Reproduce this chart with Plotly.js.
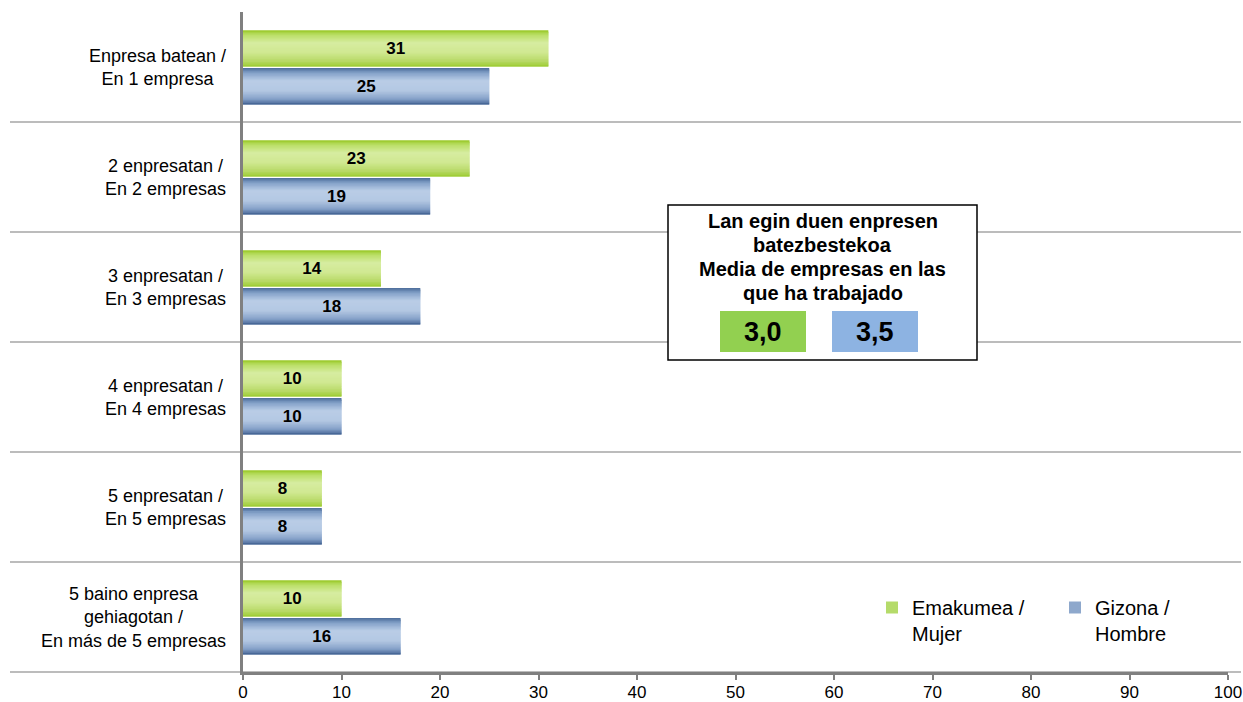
<!DOCTYPE html>
<html>
<head>
<meta charset="utf-8">
<script src="https://cdn.plot.ly/plotly-3.0.1.min.js"></script>
<style>html,body{margin:0;padding:0;background:#fff;}#chart{width:1243px;height:702px;}</style>
</head>
<body>
<div id="chart"></div>
<script>
// ---- data ----
const categories = [
  "Enpresa batean /<br>En 1 empresa",
  "2 enpresatan /<br>En 2 empresas",
  "3 enpresatan /<br>En 3 empresas",
  "4 enpresatan /<br>En 4 empresas",
  "5 enpresatan /<br>En 5 empresas",
  "5 baino enpresa<br>gehiagotan /<br>En más de 5 empresas"
];
const women = [31, 23, 14, 10, 8, 10];
const men = [25, 19, 18, 10, 8, 16];
const seriesNames = ["Emakumea /<br>Mujer", "Gizona /<br>Hombre"];
const averageTitleLines = ["Lan egin duen enpresen", "batezbestekoa", "Media de empresas en las", "que ha trabajado"];
const averages = ["3,0", "3,5"];
const xTicks = [0,10,20,30,40,50,60,70,80,90,100];

// ---- layout helpers ----
const W = 1243, H = 702;
const M = {l: 243, r: 15, t: 12, b: 30};
const PW = W - M.l - M.r, PH = H - M.t - M.b;
const px = x => (x - M.l) / PW;
const pyy = y => (M.t + PH - y) / PH;

const greenStops = [[0,[150,198,35]],[0.12,[186,222,100]],[0.35,[214,236,160]],[0.62,[208,232,146]],[0.86,[182,216,100]],[1,[156,203,48]]];
const blueStops = [[0,[72,104,150]],[0.12,[130,160,200]],[0.35,[186,205,230]],[0.62,[180,200,227]],[0.86,[132,160,200]],[1,[62,94,143]]];
function colorAt(stops, t){
  for (let i=0;i<stops.length-1;i++){
    const [t0,c0]=stops[i],[t1,c1]=stops[i+1];
    if (t>=t0 && t<=t1){
      const f=(t-t0)/(t1-t0);
      return 'rgb('+c0.map((v,k)=>Math.round(v+(c1[k]-v)*f)).join(',')+')';
    }
  }
  return 'rgb('+stops[stops.length-1][1].join(',')+')';
}

const font = 'Liberation Sans, Arial, sans-serif';
const barW = 0.33;
const N = 24;
const traces = [];
function addSeries(values, name, stops, off0, legendId, legendColor){
  const w = barW / N;
  for (let j=0;j<N;j++){
    const t = (j+0.5)/N;
    traces.push({
      type:'bar', orientation:'h', x: values, y: categories,
      offset: off0 + j*w, width: (j===N-1) ? w : w*2,
      marker:{color: colorAt(stops,t), line:{width:0}},
      showlegend:false, hoverinfo:'skip'
    });
  }
  // legend entry (no visible bars)
  traces.push({
    type:'bar', orientation:'h', x: values.map(()=>null), y: categories,
    marker:{color: legendColor, line:{color: legendColor, width:0}},
    name: name, showlegend:true, legend: legendId, hoverinfo:'skip'
  });
  traces.push({
    type:'bar', orientation:'h', x: values, y: categories,
    offset: off0, width: barW,
    marker:{color:'rgba(0,0,0,0)', line:{width:0}},
    text: values.map(String), textposition:'inside', insidetextanchor:'middle',
    textangle: 0,
    textfont:{family:font, size:17, color:'#000', weight:'bold'},
    showlegend:false, hoverinfo:'skip'
  });
}
addSeries(women, seriesNames[0], greenStops, -0.335, 'legend', '#b5db6a');
addSeries(men, seriesNames[1], blueStops, 0.01, 'legend2', '#8ea8cc');

const shapes = [];
for (let i=1;i<=6;i++){
  shapes.push({type:'line', xref:'paper', yref:'paper', x0:px(10), x1:px(1241), y0:1-i/6, y1:1-i/6,
    line:{color:'#a6a6a6', width:1.5}, layer:'below'});
}
// average box
shapes.push({type:'rect', xref:'paper', yref:'paper', x0:px(668), x1:px(977), y0:pyy(360), y1:pyy(205),
  line:{color:'#000', width:1.5}, fillcolor:'#fff', layer:'above'});
shapes.push({type:'rect', xref:'paper', yref:'paper', x0:px(720), x1:px(806), y0:pyy(352), y1:pyy(311),
  line:{width:0}, fillcolor:'#92d050', layer:'above'});
shapes.push({type:'rect', xref:'paper', yref:'paper', x0:px(832), x1:px(918), y0:pyy(352), y1:pyy(311),
  line:{width:0}, fillcolor:'#8db3e2', layer:'above'});

const annotations = categories.map(c => ({
  xref:'paper', yref:'y', x:0, y:c, xshift:-15, xanchor:'right', yanchor:'middle',
  text:c, showarrow:false, align:'center', font:{family:font, size:18, color:'#000'}
}));
averageTitleLines.forEach((t,i) => annotations.push({xref:'paper', yref:'paper', x:px(822.5), y:pyy(221 + i*24),
  xanchor:'center', yanchor:'middle', text:t, showarrow:false, align:'center',
  font:{family:font, size:20, color:'#000', weight:'bold'}}));
annotations.push({xref:'paper', yref:'paper', x:px(763), y:pyy(332), xanchor:'center', yanchor:'middle',
  text:averages[0], showarrow:false, font:{family:font, size:27, color:'#000', weight:'bold'}});
annotations.push({xref:'paper', yref:'paper', x:px(875), y:pyy(332), xanchor:'center', yanchor:'middle',
  text:averages[1], showarrow:false, font:{family:font, size:27, color:'#000', weight:'bold'}});

const legendBase = {orientation:'v', xanchor:'left', yanchor:'top', valign:'top',
  font:{family:font, size:20, color:'#000'}, bgcolor:'rgba(0,0,0,0)', itemclick:false, itemdoubleclick:false};

const layout = {
  width: W, height: H,
  margin: M,
  paper_bgcolor:'#fff', plot_bgcolor:'#fff',
  barmode:'overlay',
  showlegend:true,
  legend: Object.assign({}, legendBase, {x:px(872), y:pyy(588)}),
  legend2: Object.assign({}, legendBase, {x:px(1055), y:pyy(588)}),
  xaxis:{range:[0,100], tickvals:xTicks, ticktext:xTicks.map(String), ticks:'outside', ticklen:5, tickwidth:2,
    tickcolor:'#808080', showline:true, linecolor:'#808080', linewidth:3, showgrid:false, zeroline:false,
    tickfont:{family:font, size:17, color:'#000'}, ticklabelstandoff:-2, automargin:false, fixedrange:true},
  yaxis:{type:'category', range:[5.5,-0.5], showticklabels:false, showline:true, linecolor:'#808080',
    linewidth:3, showgrid:false, zeroline:false, ticks:'', automargin:false, fixedrange:true},
  shapes: shapes,
  annotations: annotations
};
Plotly.newPlot('chart', traces, layout, {displayModeBar:false, staticPlot:true});
</script>
</body>
</html>
